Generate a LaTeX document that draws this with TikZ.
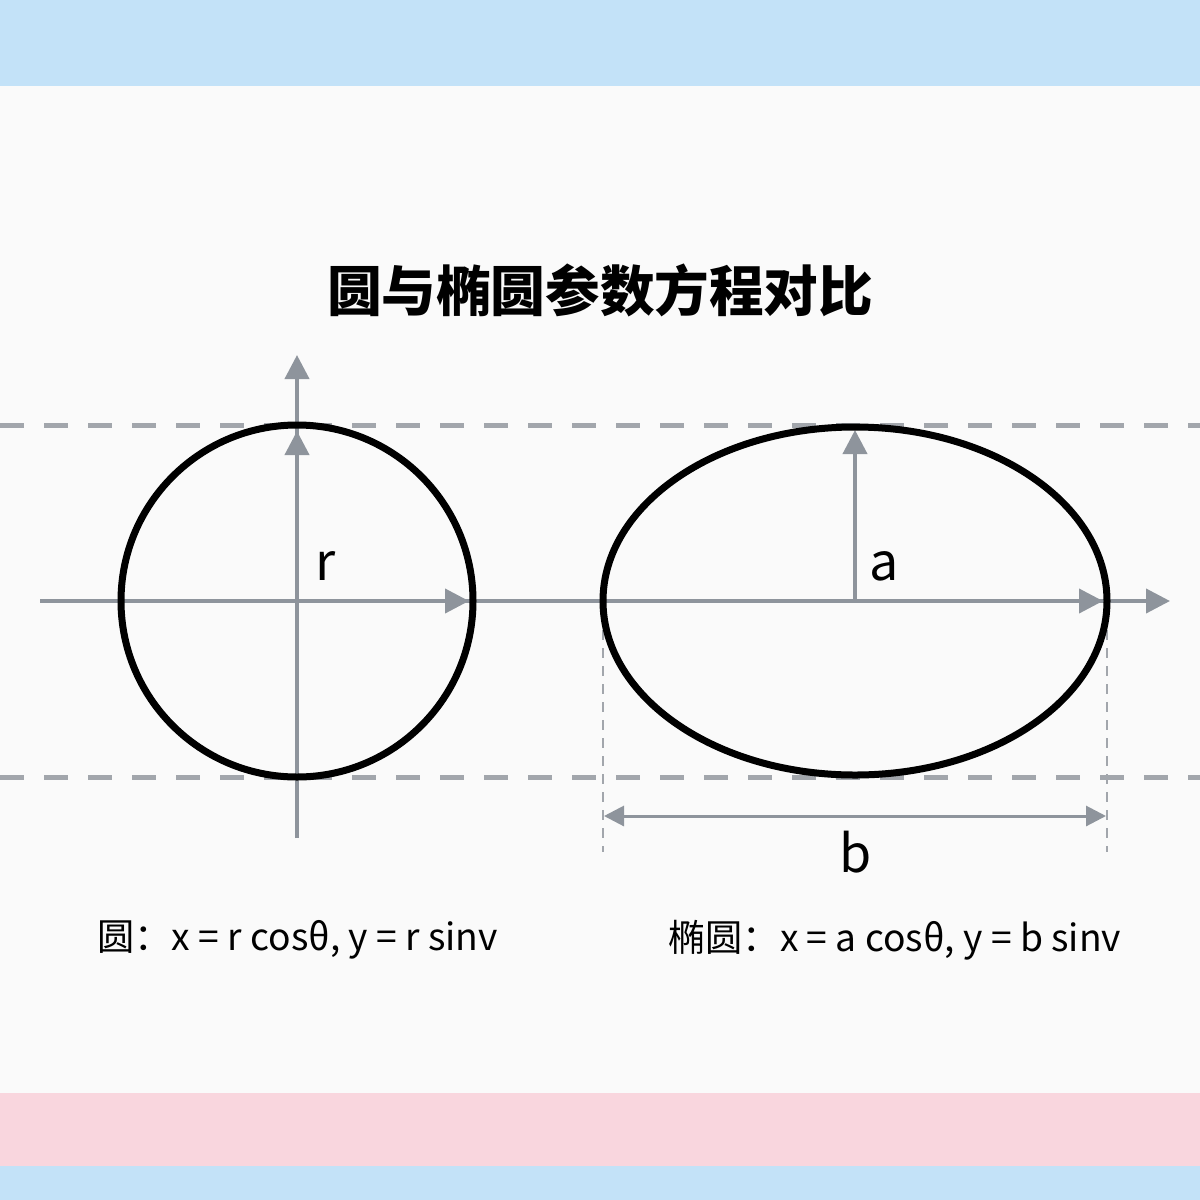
\documentclass[tikz,border=0pt]{standalone}
\usepackage{fontspec}
\setmainfont{Noto Sans CJK SC}
\usetikzlibrary{arrows.meta}
\definecolor{axisgray}{HTML}{8E949C}
\definecolor{dashgray}{HTML}{A2A6AC}
\definecolor{bandblue}{HTML}{C3E2F8}
\definecolor{bandpink}{HTML}{F9D6DE}
\definecolor{paper}{HTML}{FAFAFA}
\begin{document}
\begin{tikzpicture}[x=0.5pt,y=-0.5pt,
    axis/.style={draw=axisgray,line width=2pt,-{Triangle[length=12pt,width=12pt]}},
    guide/.style={draw=dashgray,line width=2.5pt,dash pattern=on 12pt off 10pt},
    thinguide/.style={draw=dashgray,line width=1pt,dash pattern=on 5pt off 4pt},
    dimline/.style={draw=axisgray,line width=1.5pt,{Triangle[length=10pt,width=10pt]}-{Triangle[length=10pt,width=10pt]}},
    curve/.style={draw=black,line width=3.5pt},
    lbl/.style={font=\fontsize{26}{30}\selectfont,inner sep=0pt},
    formula/.style={font=\fontsize{18.6}{22}\selectfont,inner sep=0pt,anchor=west}]
 	% Define parameters (pixels of the canvas).
 	\def\cx{297}    %x of circle centre.
 	\def\ex{855}    %x of ellipse centre.
 	\def\yc{601}    %y of both centres.
 	\def\rr{176}    %radius of circle.
 	\def\ea{252}    %horizontal semi-axis of ellipse.
 	\def\eb{174}    %vertical semi-axis of ellipse.
 	
 	% Background and bands.
 	\useasboundingbox (0,0) rectangle (1200,1200);
 	\fill[paper] (0,0) rectangle (1200,1200);
 	\fill[bandblue] (0,0) rectangle (1200,86);
 	\fill[bandpink] (0,1093) rectangle (1200,1166);
 	\fill[bandblue] (0,1166) rectangle (1200,1200);
 	
 	% Define coordinates.
 	\coordinate (oc) at (\cx,\yc);                    %circle centre.
 	\coordinate (oe) at (\ex,\yc);                    %ellipse centre.
 	\coordinate (gtl) at (0,{\yc-\rr});               %upper guide.
 	\coordinate (gtr) at (1200,{\yc-\rr});
 	\coordinate (gbl) at (0,{\yc+\rr});               %lower guide.
 	\coordinate (gbr) at (1200,{\yc+\rr});
 	\coordinate (xs) at (40,\yc);                     %x axis.
 	\coordinate (xe) at (1170,\yc);
 	\coordinate (ys) at (\cx,838);                    %y axis.
 	\coordinate (ye) at (\cx,355);
 	\coordinate (rx) at ({\cx+\rr-4},\yc);            %radius tips.
 	\coordinate (ry) at (\cx,{\yc-\rr+6});
 	\coordinate (ax) at ({\ex+\ea-4},\yc);
 	\coordinate (ay) at (\ex,{\yc-\eb+3});
 	\coordinate (lt) at ({\ex-\ea},612);              %width guides.
 	\coordinate (lb) at ({\ex-\ea},852);
 	\coordinate (rt) at ({\ex+\ea},612);
 	\coordinate (rb) at ({\ex+\ea},852);
 	\coordinate (dl) at ({\ex-\ea+1},816);            %width arrow.
 	\coordinate (dr) at ({\ex+\ea-1},816);
 	
 	% Title
 	\node[font=\fontsize{27.3}{32}\selectfont\bfseries] (title) at (600,290) {圆与椭圆参数方程对比};
 	
 	% Guides
 	\draw[guide] (gtl) -- (gtr);
 	\draw[guide] (gbl) -- (gbr);
 	\draw[thinguide] (lt) -- (lb);
 	\draw[thinguide] (rt) -- (rb);
 	
 	% Axes and semi-axes
 	\draw[axis] (xs) -- (xe);
 	\draw[axis] (ys) -- (ye);
 	\draw[axis] (oc) -- (rx);
 	\draw[axis] (oc) -- (ry);
 	\draw[axis] (oe) -- (ax);
 	\draw[axis] (oe) -- (ay);
 	
 	% CIRCLE and ELLIPSE
 	\draw[curve] (oc) circle [radius=\rr*0.5pt];
 	\draw[curve] (oe) ellipse [x radius=\ea*0.5pt, y radius=\eb*0.5pt];
 	\draw[dimline] (dl) -- (dr);
 	
 	% Labels
 	\node[lbl] (r) at (326,566) {r};
 	\node[lbl] (a) at (884,566) {a};
 	\node[lbl] (b) at (856,852) {b};
 	\node[formula] (fc) at (97,940) {圆：x = r cosθ, y = r sinv};
 	\node[formula] (fe) at (668,940) {椭圆：x = a cosθ, y = b sinv};
\end{tikzpicture}
\end{document}
